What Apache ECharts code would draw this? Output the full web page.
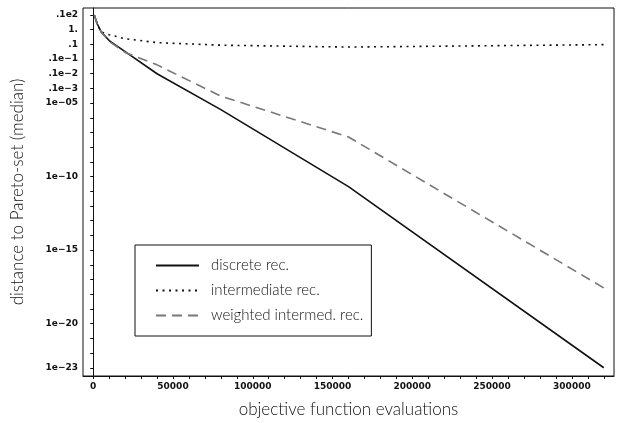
<!DOCTYPE html>
<html>
<head>
<meta charset="utf-8">
<script src="https://cdn.jsdelivr.net/npm/echarts@6/dist/echarts.min.js"></script>
<style>
  html, body { margin: 0; padding: 0; background: #fff; }
  #chart { width: 624px; height: 423px; }
</style>
</head>
<body>
<div id="chart"></div>
<script>
// Evaluation counts at which the median distance was recorded
const evaluations = [625, 1250, 2500, 5000, 10000, 20000, 40000, 80000, 160000, 320000];

// Median distance to the Pareto set for each recombination type
const discreteRec = [10, 6.3, 2.5, 0.7, 0.18, 0.032, 0.001, 3.6e-6, 2.1e-11, 1e-23];
const intermediateRec = [10, 6.3, 2.5, 0.7, 0.45, 0.24, 0.13, 0.087, 0.065, 0.095];
const weightedRec = [10, 6.3, 2.5, 0.7, 0.16, 0.028, 0.004, 3e-5, 5e-8, 2.7e-18];

// Axis ticks and their printed labels
const xTickValues = [0, 50000, 100000, 150000, 200000, 250000, 300000];
const xMinorTicks = [];
for (let v = 0; v <= 320000; v += 10000) xMinorTicks.push(v);
const yLabelValues = [10, 1, 0.1, 0.01, 1e-3, 1e-4, 1e-5, 1e-10, 1e-15, 1e-20, 1e-23];
const yLabelTexts = ['.1e2', '1.', '.1', '.1e\u22121', '.1e\u22122', '.1e\u22123', '1e\u221205', '1e\u221210', '1e\u221215', '1e\u221220', '1e\u221223'];
const yTickValues = [];
for (let e = 1; e >= -23; e--) yTickValues.push(Math.pow(10, e));

const seriesNames = ['discrete rec.', 'intermediate rec.', 'weighted intermed. rec.'];

function labelFor(v) {
  const e = Math.round(Math.log10(v));
  for (let i = 0; i < yLabelValues.length; i++) {
    if (Math.round(Math.log10(yLabelValues[i])) === e) return yLabelTexts[i];
  }
  return '';
}

const pairs = ys => evaluations.map((x, i) => [x, ys[i]]);
const titleFont = { fontFamily: 'Lato', fontWeight: 300, fontSize: 17, color: '#111' };
const tickFont = { fontFamily: 'DejaVu Sans', fontWeight: 'bold', fontSize: 9, color: '#111' };

const chart = echarts.init(document.getElementById('chart'), null, { renderer: 'canvas' });
chart.setOption({
  animation: false,
  backgroundColor: '#fff',
  grid: { left: 83, top: 8, right: 10, bottom: 43, show: true, borderColor: '#111', borderWidth: 1 },
  legend: {
    orient: 'vertical',
    left: 135, top: 245,
    data: seriesNames,
    itemWidth: 43, itemHeight: 14, itemGap: 10,
    padding: [13, 8, 13, 20],
    borderColor: '#111', borderWidth: 1,
    itemStyle: { opacity: 0 },
    textStyle: { fontFamily: 'Lato', fontWeight: 300, fontSize: 15, color: '#111', padding: [0, 0, 0, 7] }
  },
  xAxis: {
    type: 'value',
    min: -6400, max: 326400,
    name: 'objective function evaluations',
    nameLocation: 'middle', nameGap: 25,
    nameTextStyle: titleFont,
    axisLine: { lineStyle: { color: '#111', width: 1 } },
    axisTick: { show: true, length: 3, customValues: xMinorTicks, lineStyle: { color: '#111' } },
    axisLabel: { customValues: xTickValues, formatter: v => String(v), margin: 6, ...tickFont },
    splitLine: { show: false }
  },
  yAxis: {
    type: 'log',
    min: Math.pow(10, -23.56), max: Math.pow(10, 1.47),
    name: 'distance to Pareto-set (median)',
    nameLocation: 'middle', nameGap: 57,
    nameTextStyle: titleFont,
    axisLine: { lineStyle: { color: '#111', width: 1 } },
    axisTick: { show: true, length: 3, customValues: yTickValues, lineStyle: { color: '#111' } },
    axisLabel: { customValues: yLabelValues, formatter: labelFor, margin: 5, ...tickFont },
    splitLine: { show: false }
  },
  series: [
    { name: seriesNames[0], type: 'line', data: pairs(discreteRec), symbol: 'none',
      lineStyle: { color: '#111', width: 1.6, type: 'solid' }, itemStyle: { color: '#111' } },
    { name: seriesNames[1], type: 'line', data: pairs(intermediateRec), symbol: 'none',
      lineStyle: { color: '#111', width: 1.6, type: [2, 4.5] }, itemStyle: { color: '#111' } },
    { name: seriesNames[2], type: 'line', data: pairs(weightedRec), symbol: 'none',
      lineStyle: { color: '#777', width: 1.6, type: [10, 6] }, itemStyle: { color: '#777' } }
  ]
});
</script>
</body>
</html>
